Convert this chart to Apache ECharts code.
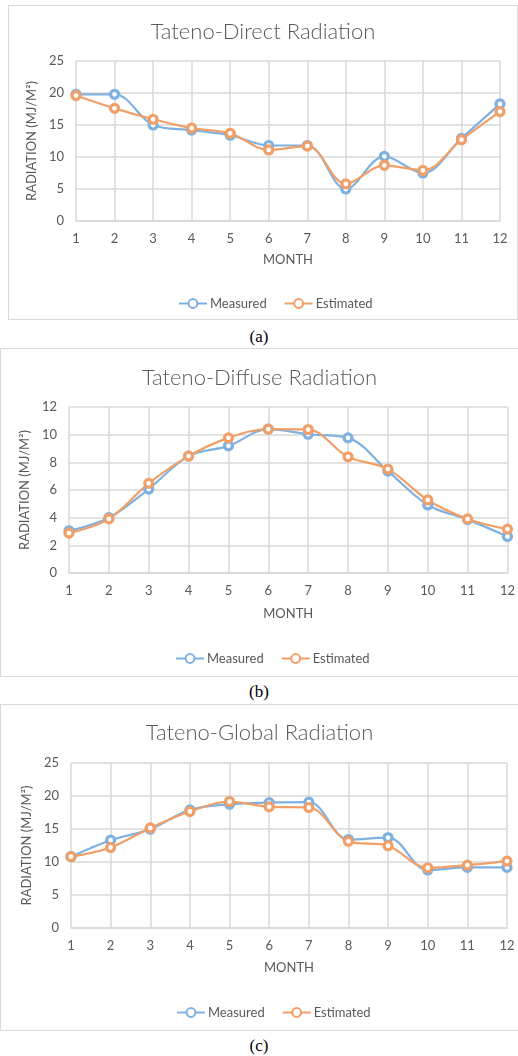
<!DOCTYPE html>
<html>
<head>
<meta charset="utf-8">
<script src="https://cdn.jsdelivr.net/npm/echarts@6/dist/echarts.min.js"></script>
<style>
  body { margin: 0; background: #fff; width: 518px; height: 1056px; position: relative; overflow: hidden; }
  .panel { position: absolute; box-sizing: border-box; border: 1px solid #d9d9d9; }
  .cap { position: absolute; left: 0; width: 518px; text-align: center; font-family: "Liberation Serif", serif; font-size: 17px; color: #000; }
</style>
</head>
<body>
<div class="panel" id="chart_a" style="left:8px;top:5px;width:510px;height:315px;"></div>
<div class="cap" style="top:327px;">(a)</div>
<div class="panel" id="chart_b" style="left:0px;top:348px;width:519px;height:329px;"></div>
<div class="cap" style="top:682px;">(b)</div>
<div class="panel" id="chart_c" style="left:0px;top:704px;width:519px;height:327px;"></div>
<div class="cap" style="top:1036px;">(c)</div>
<script>
  // 月份
  var months = ['1','2','3','4','5','6','7','8','9','10','11','12'];
  var seriesNames = ['Measured', 'Estimated'];

  // Direct
  var directMeasured  = [19.8, 19.8, 15.0, 14.2, 13.4, 11.8, 11.8, 5.0, 10.1, 7.5, 12.9, 18.3];
  var directEstimated = [19.6, 17.6, 15.9, 14.5, 13.7, 11.1, 11.7, 5.8, 8.7, 7.9, 12.7, 17.1];

  // Diffuse
  var diffuseMeasured  = [3.05, 4.0, 6.07, 8.45, 9.19, 10.4, 10.03, 9.77, 7.37, 4.92, 3.86, 2.64];
  var diffuseEstimated = [2.88, 3.91, 6.48, 8.45, 9.77, 10.4, 10.37, 8.4, 7.51, 5.28, 3.91, 3.17];

  // Global
  var globalMeasured  = [10.8, 13.3, 14.96, 17.9, 18.76, 19.0, 19.07, 13.4, 13.7, 8.77, 9.18, 9.18];
  var globalEstimated = [10.8, 12.2, 15.16, 17.65, 19.17, 18.36, 18.26, 13.13, 12.47, 9.13, 9.53, 10.14];

  var colors = ['#7fb1e0', '#f19f68'];
  var font = 'Lato, "Open Sans", sans-serif';

  function makeChart(id, title, measured, estimated, yMax, yStep, lay) {
    var chart = echarts.init(document.getElementById(id));
    var mk = function (name, data, c) {
      return {
        name: name,
        type: 'line',
        data: data,
        smooth: 0.35,
        symbol: 'circle',
        symbolSize: 8,
        lineStyle: {color: c, width: 2.2},
        itemStyle: {color: '#fff', borderColor: c, borderWidth: 3.2},
        emphasis: {disabled: true}
      };
    };
    var option = {
      animation: false,
      textStyle: {fontFamily: font},
      title: {
        text: title,
        left: 'center',
        top: lay.titleTop,
        textStyle: {fontFamily: font, fontSize: 22, fontWeight: 300, color: '#595959'}
      },
      legend: {
        data: seriesNames,
        left: lay.legendLeft,
        top: lay.legendTop,
        itemWidth: 28,
        itemHeight: 11,
        itemGap: 17,
        textStyle: {fontFamily: font, fontSize: 13, color: '#595959', padding: [0, 0, 0, -2]}
      },
      grid: {left: lay.left, right: lay.right, top: lay.top, bottom: lay.bottom},
      xAxis: {
        type: 'category',
        data: months,
        boundaryGap: false,
        name: 'MONTH',
        nameLocation: 'middle',
        nameGap: lay.xNameGap,
        nameTextStyle: {fontFamily: font, fontSize: 13, color: '#595959'},
        axisLine: {lineStyle: {color: '#d9d9d9', width: 1.5}},
        axisTick: {show: false},
        axisLabel: {fontFamily: font, fontSize: 13, color: '#595959', margin: 11},
        splitLine: {show: true, lineStyle: {color: '#d9d9d9', width: 1.5}}
      },
      yAxis: {
        type: 'value',
        min: 0,
        max: yMax,
        interval: yStep,
        name: 'RADIATION (MJ/M²)',
        nameLocation: 'middle',
        nameGap: lay.yNameGap,
        nameTextStyle: {fontFamily: font, fontSize: 13, color: '#595959'},
        axisLine: {show: false},
        axisTick: {show: false},
        axisLabel: {fontFamily: font, fontSize: 13, color: '#595959', margin: 12},
        splitLine: {lineStyle: {color: '#d9d9d9', width: 1.5}}
      },
      series: [
        mk(seriesNames[0], measured, colors[0]),
        mk(seriesNames[1], estimated, colors[1])
      ]
    };
    chart.setOption(option);
    return chart;
  }

  makeChart('chart_a', 'Tateno-Direct Radiation', directMeasured, directEstimated, 25, 5,
    {left: 67, right: 17, top: 55, bottom: 98, titleTop: 10, legendTop: 286, legendLeft: 164,
     xNameGap: 32, yNameGap: 24});
  makeChart('chart_b', 'Tateno-Diffuse Radiation', diffuseMeasured, diffuseEstimated, 12, 2,
    {left: 68, right: 9, top: 58, bottom: 103, titleTop: 13, legendTop: 298, legendLeft: 169,
     xNameGap: 34, yNameGap: 25});
  makeChart('chart_c', 'Tateno-Global Radiation', globalMeasured, globalEstimated, 25, 5,
    {left: 70, right: 11, top: 58, bottom: 102, titleTop: 12, legendTop: 296, legendLeft: 170,
     xNameGap: 33, yNameGap: 25});
</script>
</body>
</html>
